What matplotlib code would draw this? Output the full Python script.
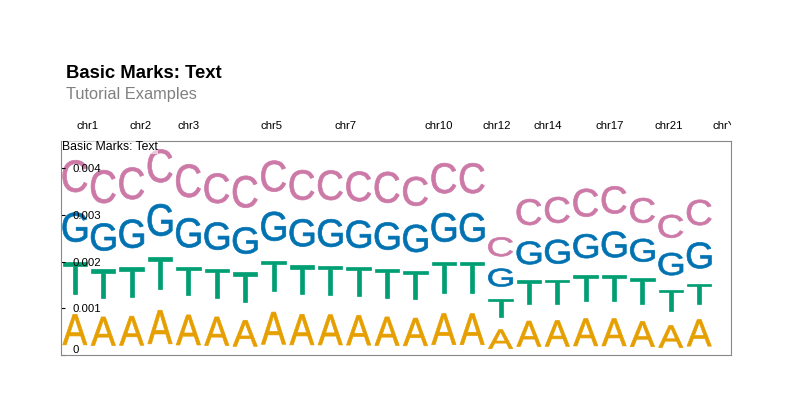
import matplotlib.pyplot as plt
from matplotlib.textpath import TextPath
from matplotlib.font_manager import FontProperties
from matplotlib.patches import PathPatch
from matplotlib.transforms import Affine2D, Bbox, TransformedBbox, blended_transform_factory

plt.rcParams['font.family'] = ['Liberation Sans', 'DejaVu Sans']

# hg38 chromosome sizes (Mb)
chrom_names = ['chr1', 'chr2', 'chr3', 'chr4', 'chr5', 'chr6', 'chr7', 'chr8', 'chr9', 'chr10',
               'chr11', 'chr12', 'chr13', 'chr14', 'chr15', 'chr16', 'chr17', 'chr18', 'chr19',
               'chr20', 'chr21', 'chr22', 'chrX', 'chrY', 'chrM']
chrom_sizes = [248.96, 242.19, 198.30, 190.21, 181.54, 170.81, 159.35, 145.14, 138.39, 133.80,
               135.09, 133.28, 114.36, 107.04, 101.99, 90.34, 83.26, 80.37, 58.62,
               64.44, 46.71, 50.82, 156.04, 57.23, 0.02]
shown_labels = ['chr1', 'chr2', 'chr3', 'chr5', 'chr7', 'chr10', 'chr12', 'chr14', 'chr17', 'chr21', 'chrY']

bin_size = 130.8  # Mb per bin
bases = ['A', 'T', 'G', 'C']
base_colors = ['#E69F00', '#009E73', '#0072B2', '#CC79A7']

# counts per bin, x 1e-3
count_a = [1.09, 1.02, 1.04, 1.20, 1.075, 1.02, 0.93, 1.15, 1.09, 1.08, 1.06, 1.02,
           0.99, 1.11, 1.11, 0.68, 0.91, 0.925, 0.975, 0.975, 0.90, 0.79, 0.95]
count_t = [1.125, 1.02, 1.05, 1.125, 1.02, 1.04, 1.05, 1.09, 1.04, 1.04, 1.04, 1.04,
           1.02, 1.11, 1.11, 0.66, 0.87, 0.86, 0.93, 0.93, 0.935, 0.76, 0.72]
count_g = [1.05, 0.98, 1.02, 1.14, 1.05, 0.98, 0.95, 1.04, 0.98, 0.99, 0.98, 0.98,
           0.98, 1.03, 1.03, 0.64, 0.82, 0.86, 0.86, 0.93, 0.82, 0.80, 0.93]
count_c = [1.14, 1.18, 1.14, 1.18, 1.18, 1.07, 1.14, 1.11, 1.07, 1.06, 1.07, 1.11,
           1.04, 1.08, 1.08, 0.68, 0.93, 0.93, 1.00, 0.98, 0.89, 0.82, 0.91]

y_ticks = [0, 0.001, 0.002, 0.003, 0.004]
y_tick_labels = ['0', '0.001', '0.002', '0.003', '0.004']

fig = plt.figure(figsize=(7.92, 4.16), dpi=100)
ax = fig.add_axes([60.7 / 792, 61 / 416, 670 / 792, 214.5 / 416])

genome_len = sum(chrom_sizes)
ax.set_xlim(0, genome_len)
ax.set_ylim(0, 0.0046)

# stretched letters, stacked per bin
font = FontProperties(family='Liberation Sans')
glyphs = {b: TextPath((0, 0), b, size=1, prop=font) for b in bases}
counts = [count_a, count_t, count_g, count_c]
for i in range(len(count_a)):
    center = (i + 0.5) * bin_size
    w = bin_size * 0.86
    bottom = 0.0
    for b, col, vals in zip(bases, base_colors, counts):
        v = vals[i] * 1e-3
        path = glyphs[b]
        ext = path.get_extents()
        tr = (Affine2D().translate(-ext.x0, -ext.y0)
              .scale(w / ext.width, v * 0.6 / ext.height)
              .translate(center - w / 2, bottom + v * 0.2))
        ax.add_patch(PathPatch(tr.transform_path(path), fc=col, ec=col, lw=0.5,
                               joinstyle='miter'))
        bottom += v

# y axis inside the track
ax.set_yticks(y_ticks, y_tick_labels)
ax.tick_params(axis='y', direction='in', length=3, width=0.8, pad=-8.6, labelsize=8.2)
for lbl in ax.get_yticklabels():
    lbl.set_ha('left')
ax.get_yticklabels()[0].set_va('bottom')
ax.set_xticks([])

for s in ax.spines.values():
    s.set_color('#888888')
    s.set_linewidth(0.8)

# chromosome labels on top
starts = [sum(chrom_sizes[:k]) for k in range(len(chrom_sizes))]
trans = blended_transform_factory(ax.transData, ax.transAxes)
clip = TransformedBbox(Bbox([[0, 1], [1, 1.3]]), ax.transAxes)
for name, st, size in zip(chrom_names, starts, chrom_sizes):
    if name in shown_labels:
        t = ax.text(st + size / 2, 1 + 11.5 / 214.5, name, transform=trans,
                    ha='center', va='baseline', fontsize=8.2)
        t.set_clip_path(None)
        t.set_clip_box(clip)
        t.set_clip_on(True)

ax.text(0.002, 0.997, 'Basic Marks: Text', transform=ax.transAxes, ha='left', va='top',
        fontsize=8.8, bbox=dict(fc='white', ec='none', alpha=0.6, pad=0.3))

fig.text(65.7 / 792, 1 - 77.7 / 416, 'Basic Marks: Text', fontsize=13.3,
         fontweight='bold', va='baseline')
fig.text(65.7 / 792, 1 - 99.3 / 416, 'Tutorial Examples', fontsize=11.8,
         color='#808080', va='baseline')

fig.savefig('out.png', dpi=100)
